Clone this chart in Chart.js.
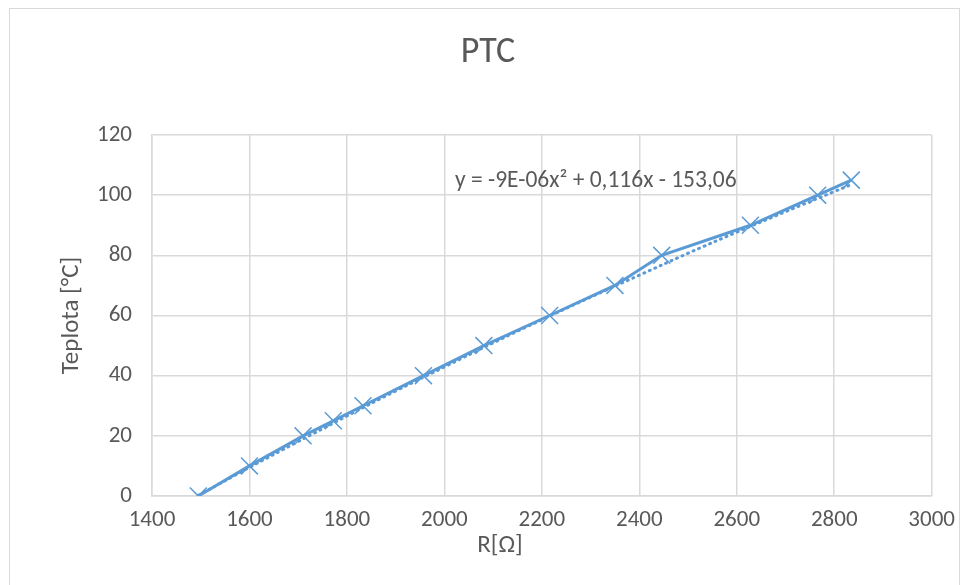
<!DOCTYPE html>
<html>
<head>
<meta charset="utf-8">
<script src="https://cdn.jsdelivr.net/npm/chart.js@4.4.1/dist/chart.umd.min.js"></script>
<style>
    html, body { margin: 0; padding: 0; background: #fff; }
    #wrap { position: relative; width: 965px; height: 585px; }
    #frame { position: absolute; left: 9px; top: 8px; width: 951px; height: 590px; border: 1px solid #d9d9d9; box-sizing: border-box; }
    canvas { position: absolute; left: 0; top: 0; }
</style>
</head>
<body>
<div id="wrap">
    <div id="frame"></div>
    <canvas id="ptcChart" width="965" height="585"></canvas>
</div>
<script>
    // measured points: resistance [Ohm] vs temperature [°C]
    const resistance = [1495, 1600, 1710, 1772, 1833, 1957, 2081, 2216, 2350, 2446, 2628, 2766, 2835];
    const temperature = [0, 10, 20, 25, 30, 40, 50, 60, 70, 80, 90, 100, 105];

    // polynomial trendline
    const trendX = [1495, 1600, 1700, 1800, 1900, 2000, 2100, 2200, 2300, 2400, 2500, 2600, 2700, 2800, 2835];
    const trendY = [0.2, 9.5, 18.1, 26.6, 34.9, 42.9, 50.9, 58.6, 66.1, 73.4, 80.7, 87.7, 94.5, 101.2, 103.5];

    const xTicks = [1400, 1600, 1800, 2000, 2200, 2400, 2600, 2800, 3000];
    const yTicks = [0, 20, 40, 60, 80, 100, 120];

    const chartTitle = 'PTC';
    const xTitle = 'R[Ω]';
    const yTitle = 'Teplota [°C]';
    const equation = 'y = -9E-06x² + 0,116x - 153,06';

    const textColor = '#595959';
    const gridColor = '#d9d9d9';
    const lineColor = '#5b9bd5';
    const fontFamily = "Calibri, Carlito, 'Open Sans', 'DejaVu Sans', sans-serif";

    // chart title, x axis title and trendline equation
    const extraText = {
        id: 'extraText',
        afterDatasetsDraw(chart) {
            const ctx = chart.ctx;
            ctx.save();
            ctx.fillStyle = textColor;
            ctx.textBaseline = 'middle';

            ctx.textAlign = 'center';
            ctx.font = '36px ' + fontFamily;
            ctx.fillText(chartTitle, 488, 53);

            ctx.font = '25px ' + fontFamily;
            ctx.fillText(xTitle, 500, 546);

            ctx.textAlign = 'left';
            ctx.font = '23.5px ' + fontFamily;
            ctx.fillText(equation, 455, 181);
            ctx.restore();
        }
    };

    new Chart(document.getElementById('ptcChart').getContext('2d'), {
        type: 'scatter',
        data: {
            datasets: [{
                label: 'Data',
                data: resistance.map((r, i) => ({ x: r, y: temperature[i] })),
                showLine: true,
                borderColor: lineColor,
                backgroundColor: lineColor,
                borderWidth: 3,
                pointStyle: 'crossRot',
                pointRadius: 12,
                pointBorderWidth: 1.5,
                pointBorderColor: lineColor,
                tension: 0,
                order: 1
            }, {
                label: 'Trend',
                data: trendX.map((r, i) => ({ x: r, y: trendY[i] })),
                showLine: true,
                borderColor: lineColor,
                borderWidth: 3,
                borderDash: [1, 5],
                borderCapStyle: 'round',
                pointRadius: 0,
                tension: 0.4,
                order: 2
            }]
        },
        options: {
            responsive: false,
            animation: false,
            layout: { padding: { top: 135, right: 33, bottom: 0, left: 0 } },
            plugins: {
                legend: { display: false },
                tooltip: { enabled: false },
                title: { display: false }
            },
            scales: {
                x: {
                    type: 'linear',
                    min: 1400,
                    max: 3000,
                    afterBuildTicks: function(scale) {
                        scale.ticks = xTicks.map(v => ({ value: v }));
                    },
                    afterFit: function(scale) { scale.height = 89; },
                    grid: { color: gridColor, lineWidth: 1.5, drawTicks: false },
                    border: { color: gridColor, width: 1.5 },
                    ticks: {
                        color: textColor,
                        font: { family: fontFamily, size: 23 },
                        padding: 10,
                        maxRotation: 0,
                        callback: v => String(v)
                    }
                },
                y: {
                    type: 'linear',
                    min: 0,
                    max: 120,
                    afterBuildTicks: function(scale) {
                        scale.ticks = yTicks.map(v => ({ value: v }));
                    },
                    afterFit: function(scale) { scale.width = 152; },
                    grid: { color: gridColor, lineWidth: 1.5, drawTicks: false },
                    border: { color: gridColor, width: 1.5 },
                    ticks: {
                        color: textColor,
                        font: { family: fontFamily, size: 23 },
                        padding: 20,
                        callback: v => String(v)
                    },
                    title: {
                        display: true,
                        text: yTitle,
                        color: textColor,
                        font: { family: fontFamily, size: 25 },
                        padding: { top: 57, bottom: 0 }
                    }
                }
            }
        },
        plugins: [extraText]
    });
</script>
</body>
</html>
